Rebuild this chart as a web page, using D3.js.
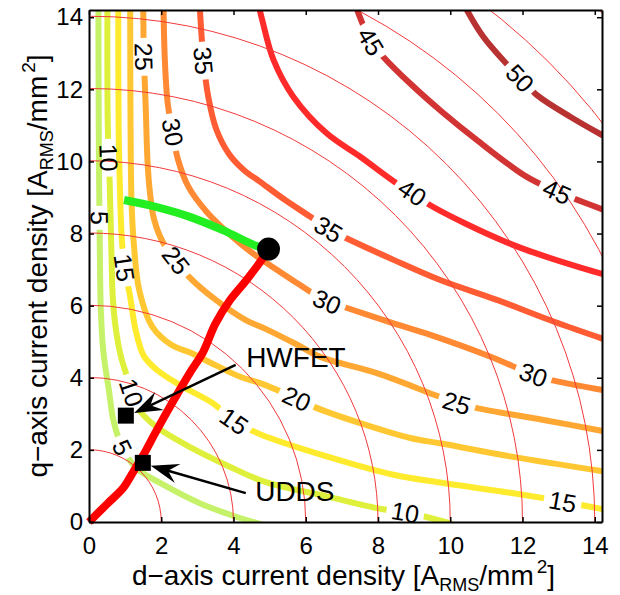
<!DOCTYPE html>
<html>
<head>
<meta charset="utf-8">
<script src="https://cdn.jsdelivr.net/npm/d3@7"></script>
<style>
  body { margin: 0; background: #fff; }
  text { font-family: "Liberation Sans", Arial, sans-serif; fill: #000; }
</style>
</head>
<body>
<svg id="chart" width="620" height="595"></svg>
<script>
// contour levels and their line points [d, q]
const levels = [5, 10, 15, 20, 25, 30, 35, 40, 45, 50];

const c05 = [[0.26, 14.4], [0.27, 11], [0.28, 9.5], [0.3, 7.5], [0.33, 5.8], [0.4, 4.7], [0.55, 3.66],
  [0.68, 2.8], [0.92, 2.08], [1.3, 1.5], [2.03, 1.05], [3.05, 0.53], [3.97, 0.18], [4.9, -0.1]];
const c10 = [[0.51, 14.4], [0.52, 11], [0.57, 9.5], [0.62, 7.5], [0.66, 6.2], [0.75, 5.3], [0.88, 4.6],
  [1.03, 4.1], [1.17, 3.6], [1.39, 3.11], [1.85, 2.65], [2.77, 2.09], [3.88, 1.54], [4.85, 1.12],
  [6.58, 0.71], [8.1, 0.36], [8.75, 0.27], [9.26, 0.16], [10.05, -0.05]];
const c15 = [[0.81, 14.4], [0.82, 11], [0.85, 9.5], [0.9, 8.0], [0.98, 7.05], [1.13, 6.3], [1.29, 5.33],
  [1.52, 4.6], [1.9, 4.2], [2.58, 3.76], [3.42, 3.3], [4.02, 2.8], [4.7, 2.45], [6.58, 1.82],
  [8.43, 1.31], [9.8, 1.08], [11.66, 0.81], [13.1, 0.57], [14.4, 0.32]];
const c20 = [[1.14, 14.4], [1.15, 11], [1.18, 8.8], [1.25, 7.6], [1.39, 6.43], [1.75, 5.42], [2.3, 4.9],
  [2.8, 4.7], [3.5, 4.35], [4.2, 4.02], [4.74, 3.85], [5.75, 3.42], [6.21, 3.2], [7.51, 2.74],
  [8.89, 2.33], [9.8, 2.17], [11.66, 1.82], [14.4, 1.38]];
const c25 = [[1.5, 14.4], [1.52, 12.9], [1.57, 11.5], [1.62, 10], [1.68, 9.2], [1.8, 8.4], [2.05, 7.75],
  [2.42, 7.25], [2.77, 6.8], [3.51, 6.16], [4.34, 5.6], [4.9, 5.35], [5.7, 4.95], [6.4, 4.58],
  [7.97, 4.13], [9.63, 3.5], [10.18, 3.3], [10.74, 3.16], [12.58, 2.83], [14.4, 2.49]];
const c30 = [[2.06, 14.4], [2.1, 12.8], [2.18, 11.6], [2.32, 10.8], [2.45, 10.1], [2.75, 9.3],
  [3.26, 8.6], [3.97, 7.91], [4.6, 7.4], [5.0, 7.13], [5.8, 6.6], [6.58, 6.11], [7.04, 5.97],
  [8.43, 5.51], [9.45, 5.19], [11.1, 4.59], [12.31, 4.08], [12.77, 3.94], [14.4, 3.63]];
const c35 = [[3.06, 14.4], [3.17, 12.8], [3.3, 11.8], [3.52, 10.9], [3.88, 10.2], [4.3, 9.75],
  [4.73, 9.44], [5.4, 8.95], [6.12, 8.47], [6.63, 8.12], [7.04, 7.91], [8.43, 7.27], [9.72, 6.71],
  [11.29, 6.16], [12.86, 5.56], [14.4, 5.02]];
const c40 = [[4.68, 14.4], [4.8, 13.9], [5.11, 12.81], [5.66, 11.79], [6.58, 10.78], [7.51, 10.13],
  [8.52, 9.39], [8.94, 9.14], [9.35, 8.84], [11.7, 7.7], [14.4, 6.82]];
const c45 = [[7.35, 14.4], [7.8, 13.33], [8.13, 12.92], [8.89, 12.16], [9.8, 11.35], [10.74, 10.59],
  [12.12, 9.57], [12.96, 9.16], [13.42, 8.97], [14.4, 8.6]];
const c50 = [[10.35, 14.4], [10.92, 13.45], [11.94, 12.3], [12.4, 11.84], [13.32, 11.24], [14.4, 10.62]];
const contourLines = [c05, c10, c15, c20, c25, c30, c35, c40, c45, c50];

// where each level carries an inline label
const labelsAt = [
  [[0.28, 8.45], [0.92, 2.08]],
  [[0.52, 10.1], [1.17, 3.6], [8.75, 0.27]],
  [[0.98, 7.05], [4.02, 2.8], [13.1, 0.57]],
  [[5.75, 3.42]],
  [[1.52, 12.9], [2.42, 7.25], [10.18, 3.3]],
  [[2.32, 10.8], [6.58, 6.11], [12.31, 4.08]],
  [[3.17, 12.8], [6.63, 8.12]],
  [[8.94, 9.14]],
  [[7.8, 13.33], [12.96, 9.16]],
  [[11.94, 12.3]]
];

const levelColors = ['#c6f26a', '#dff03c', '#ffeb2e', '#ffc833', '#ffa733', '#ff8a33',
  '#ff5c33', '#ff2b2b', '#d23434', '#b83232'];

// current magnitude circles
const circleRadii = [2, 4, 6, 8, 10, 12, 14, 16, 18, 20];

const xTicks = [0, 2, 4, 6, 8, 10, 12, 14];
const yTicks = [0, 2, 4, 6, 8, 10, 12, 14];

// operating trajectory (red) and field weakening arc (green)
const mtpaPath = [[0, 0], [0.5, 0.5], [0.95, 0.95], [1.2, 1.35], [1.5, 1.85], [1.85, 2.5], [2.3, 3.3],
  [2.8, 4.15], [3.15, 4.7], [3.5, 5.5], [3.9, 6.15], [4.35, 6.7], [4.8, 7.3], [4.97, 7.57]];
const fwPath = [[0.97, 8.93], [1.85, 8.74], [2.77, 8.47], [3.69, 8.1], [4.62, 7.66], [4.97, 7.55]];
const ratedPoint = [4.97, 7.57];

// drive cycle points with their callouts
const cycleNames = ['HWFET', 'UDDS'];
const cyclePoints = [[1.02, 2.95], [1.49, 1.64]];
const arrowTails = [[4.06, 4.36], [4.34, 0.8]];
const arrowTips = [[1.25, 3.02], [1.71, 1.56]];
const cycleTextAt = [[4.35, 4.3], [4.6, 0.57]];

const svg = d3.select('#chart');
const x = d3.scaleLinear().domain([0, 14.2]).range([89, 602]);
const y = d3.scaleLinear().domain([0, 14.2]).range([522, 10]);

const defs = svg.append('defs');
defs.append('clipPath').attr('id', 'plot-clip')
  .append('rect')
  .attr('x', x(0)).attr('y', y(14.2))
  .attr('width', x(14.2) - x(0)).attr('height', y(0) - y(14.2));

const line = d3.line()
  .x(d => x(d[0]))
  .y(d => y(d[1]))
  .curve(d3.curveCatmullRom.alpha(0.5));

const plot = svg.append('g').attr('clip-path', 'url(#plot-clip)');

// thick contour lines, each masked where its labels sit
const contourG = plot.append('g');
const labelG = svg.append('g');

contourLines.forEach((pts, i) => {
  const mask = defs.append('mask')
    .attr('id', 'gap-' + i)
    .attr('maskUnits', 'userSpaceOnUse')
    .attr('x', 0).attr('y', 0).attr('width', 620).attr('height', 595);
  mask.append('rect').attr('width', 620).attr('height', 595).attr('fill', '#fff');

  const path = contourG.append('path')
    .attr('d', line(pts))
    .attr('fill', 'none')
    .attr('stroke', levelColors[i])
    .attr('stroke-width', 6)
    .attr('mask', 'url(#gap-' + i + ')');

  const node = path.node();
  const total = node.getTotalLength();

  labelsAt[i].forEach(lp => {
    const px = x(lp[0]), py = y(lp[1]);
    let best = 0, bestD = Infinity;
    for (let l = 0; l <= total; l += 1) {
      const p = node.getPointAtLength(l);
      const d = (p.x - px) ** 2 + (p.y - py) ** 2;
      if (d < bestD) { bestD = d; best = l; }
    }
    const c = node.getPointAtLength(best);
    const a = node.getPointAtLength(Math.max(0, best - 8));
    const b = node.getPointAtLength(Math.min(total, best + 8));
    let angle = Math.atan2(b.y - a.y, b.x - a.x) * 180 / Math.PI;
    if (angle > 90) angle -= 180;
    if (angle <= -90) angle += 180;

    const t = labelG.append('text')
      .attr('transform', `translate(${c.x},${c.y}) rotate(${angle})`)
      .attr('text-anchor', 'middle')
      .attr('dy', '0.36em')
      .style('font-size', '25px')
      .text(levels[i]);
    const w = t.node().getComputedTextLength() + 10;

    mask.append('rect')
      .attr('x', -w / 2).attr('y', -11)
      .attr('width', w).attr('height', 22)
      .attr('fill', '#000')
      .attr('transform', `translate(${c.x},${c.y}) rotate(${angle})`);
  });
});

// thin current circles
plot.append('g')
  .selectAll('circle')
  .data(circleRadii)
  .join('circle')
  .attr('cx', x(0))
  .attr('cy', y(0))
  .attr('r', d => x(d) - x(0))
  .attr('fill', 'none')
  .attr('stroke', '#f23a3a')
  .attr('stroke-width', 1);

labelG.raise();

// trajectories
plot.append('path')
  .attr('d', line(fwPath))
  .attr('fill', 'none')
  .attr('stroke', '#22ee22')
  .attr('stroke-width', 8);

svg.append('path')
  .attr('d', line(mtpaPath))
  .attr('fill', 'none')
  .attr('stroke', '#ff0000')
  .attr('stroke-width', 8)
  .attr('stroke-linejoin', 'round');

svg.append('circle')
  .attr('cx', x(ratedPoint[0]))
  .attr('cy', y(ratedPoint[1]))
  .attr('r', 11.5)
  .attr('fill', '#000');

// drive cycle markers and arrows
const callouts = svg.append('g');
cycleNames.forEach((name, i) => {
  callouts.append('rect')
    .attr('x', x(cyclePoints[i][0]) - 8)
    .attr('y', y(cyclePoints[i][1]) - 8)
    .attr('width', 16).attr('height', 16)
    .attr('fill', '#000');

  const x0 = x(arrowTails[i][0]), y0 = y(arrowTails[i][1]);
  const x1 = x(arrowTips[i][0]), y1 = y(arrowTips[i][1]);
  const ang = Math.atan2(y1 - y0, x1 - x0);
  const L = 28, W = 10, N = 18;
  const cos = Math.cos(ang), sin = Math.sin(ang);
  const pt = (u, v) => [x1 + u * cos - v * sin, y1 + u * sin + v * cos];

  callouts.append('line')
    .attr('x1', x0).attr('y1', y0)
    .attr('x2', pt(-N, 0)[0]).attr('y2', pt(-N, 0)[1])
    .attr('stroke', '#000')
    .attr('stroke-width', 2.5);

  callouts.append('path')
    .attr('d', 'M' + [pt(0, 0), pt(-L, -W), pt(-N, 0), pt(-L, W)].map(p => p.join(',')).join('L') + 'Z')
    .attr('fill', '#000');

  callouts.append('text')
    .attr('x', x(cycleTextAt[i][0]))
    .attr('y', y(cycleTextAt[i][1]))
    .style('font-size', '28px')
    .text(name);
});

// axes, ticks pointing inward, full box
const xAxis = svg.append('g')
  .attr('transform', `translate(0,${y(0)})`)
  .call(d3.axisBottom(x).tickValues(xTicks).tickSize(-5).tickSizeOuter(0).tickPadding(15));
const yAxis = svg.append('g')
  .attr('transform', `translate(${x(0)},0)`)
  .call(d3.axisLeft(y).tickValues(yTicks).tickSize(-5).tickSizeOuter(0).tickPadding(6));
const topAxis = svg.append('g')
  .attr('transform', `translate(0,${y(14.2)})`)
  .call(d3.axisTop(x).tickValues(xTicks).tickSize(-5).tickSizeOuter(0).tickFormat(''));
const rightAxis = svg.append('g')
  .attr('transform', `translate(${x(14.2)},0)`)
  .call(d3.axisRight(y).tickValues(yTicks).tickSize(-5).tickSizeOuter(0).tickFormat(''));

[xAxis, yAxis, topAxis, rightAxis].forEach(g => {
  g.select('.domain').attr('stroke', '#000').attr('stroke-width', 2);
  g.selectAll('.tick line').attr('stroke', '#000').attr('stroke-width', 1.5);
  g.selectAll('.tick text')
    .style('font-size', '24px')
    .style('font-family', '"Liberation Sans", Arial, sans-serif')
    .attr('fill', '#000');
});

// axis titles
const xTitle = svg.append('text')
  .attr('x', (x(0) + x(14.2)) / 2 - 2)
  .attr('y', 585)
  .attr('text-anchor', 'middle')
  .style('font-size', '28px');
xTitle.append('tspan').text('d\u2212axis current density [A');
xTitle.append('tspan').attr('dy', 6).style('font-size', '18px').text('RMS');
xTitle.append('tspan').attr('dy', -6).text('/mm');
xTitle.append('tspan').attr('dy', -12).attr('dx', 3).style('font-size', '19px').text('2');
xTitle.append('tspan').attr('dy', 12).text(']');

const yTitle = svg.append('text')
  .attr('transform', `translate(47,${(y(0) + y(14.2)) / 2}) rotate(-90)`)
  .attr('text-anchor', 'middle')
  .style('font-size', '28px');
yTitle.append('tspan').text('q\u2212axis current density [A');
yTitle.append('tspan').attr('dy', 6).style('font-size', '18px').text('RMS');
yTitle.append('tspan').attr('dy', -6).text('/mm');
yTitle.append('tspan').attr('dy', -12).attr('dx', 3).style('font-size', '19px').text('2');
yTitle.append('tspan').attr('dy', 12).text(']');
</script>
</body>
</html>
